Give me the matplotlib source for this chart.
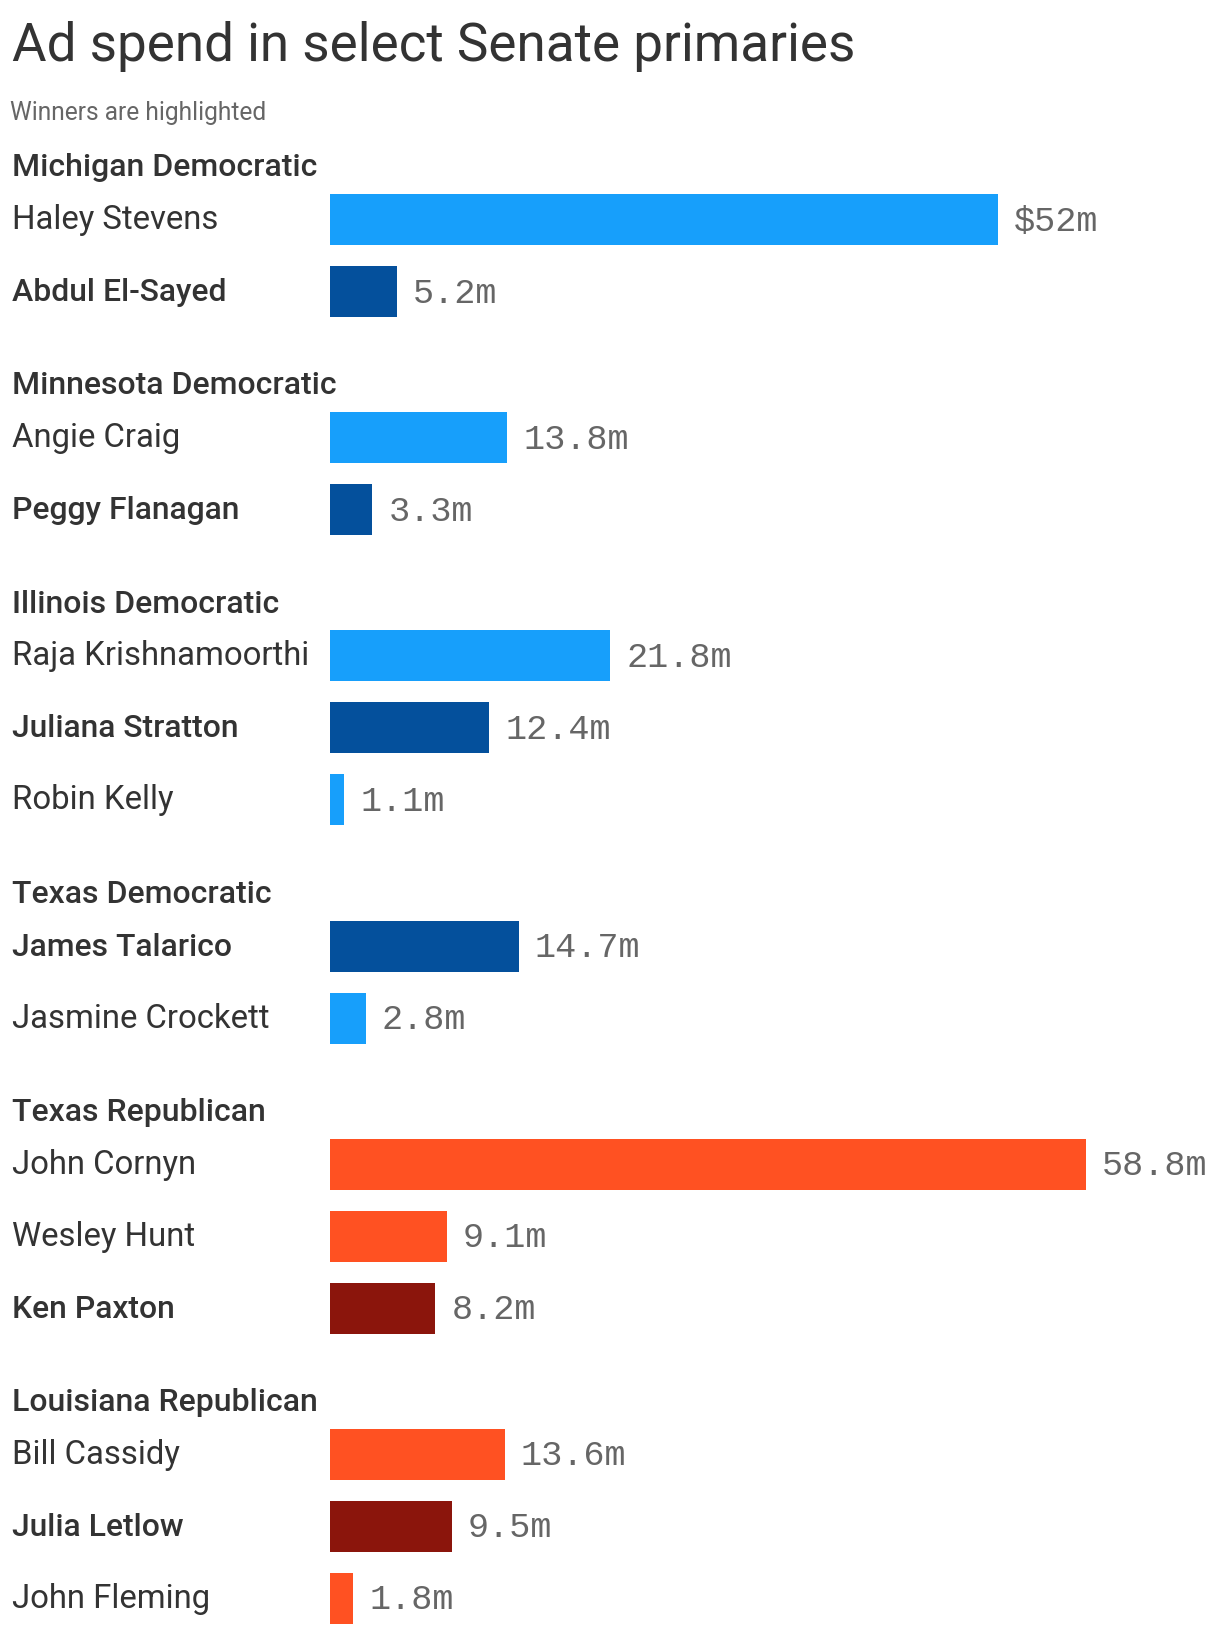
import matplotlib
matplotlib.use("Agg")
import matplotlib.pyplot as plt
from matplotlib.transforms import blended_transform_factory

# ---------------- data ----------------
groups = ["Michigan Democratic", "Minnesota Democratic", "Illinois Democratic",
          "Texas Democratic", "Texas Republican", "Louisiana Republican"]
group_party = ["D", "D", "D", "D", "R", "R"]
candidates = ["Haley Stevens", "Abdul El-Sayed",
              "Angie Craig", "Peggy Flanagan",
              "Raja Krishnamoorthi", "Juliana Stratton", "Robin Kelly",
              "James Talarico", "Jasmine Crockett",
              "John Cornyn", "Wesley Hunt", "Ken Paxton",
              "Bill Cassidy", "Julia Letlow", "John Fleming"]
candidate_group = [0, 0, 1, 1, 2, 2, 2, 3, 3, 4, 4, 4, 5, 5, 5]
spend_m = [52, 5.2, 13.8, 3.3, 21.8, 12.4, 1.1, 14.7, 2.8, 58.8, 9.1, 8.2, 13.6, 9.5, 1.8]
winner = [False, True, False, True, False, True, False, True, False,
          False, False, True, False, True, False]
value_labels = ["$52m", "5.2m", "13.8m", "3.3m", "21.8m", "12.4m", "1.1m",
                "14.7m", "2.8m", "58.8m", "9.1m", "8.2m", "13.6m", "9.5m", "1.8m"]

title = "Ad spend in select Senate primaries"
subtitle = "Winners are highlighted"

# ---------------- style ----------------
W, H, DPI = 1220, 1634, 100
ROW = 72.0                 # px per row unit
PX_PER_M = 12.85
BAR_LEFT = 330
colors = {("D", False): "#179FFB", ("D", True): "#04509C",
          ("R", False): "#FF5122", ("R", True): "#8B150C"}
TEXT = "#333333"
GRAY = "#666666"
SANS = ["Roboto", "DejaVu Sans"]
MONO = ["Liberation Mono", "DejaVu Sans Mono"]
BOLD = "medium"

fig = plt.figure(figsize=(W / DPI, H / DPI), dpi=DPI)
fig.patch.set_facecolor("white")
ax = fig.add_axes([BAR_LEFT / W, 0, (W - BAR_LEFT) / W, 1])
ax.set_xlim(0, (W - BAR_LEFT) / PX_PER_M)
ax.set_ylim(H / ROW, 0)
ax.axis("off")

renderer = fig.canvas.get_renderer()


def fit(t, target_px):
    bb = t.get_window_extent(renderer=renderer)
    t.set_fontsize(t.get_fontsize() * target_px / bb.width)


# layout of rows
HEAD_TO_BAR = 0.74
BAR_TO_HEAD = 1.29
cursor = 2.31
header_y = []
bar_y = []
for gi in range(len(groups)):
    header_y.append(cursor)
    members = [i for i, g in enumerate(candidate_group) if g == gi]
    y = cursor + HEAD_TO_BAR
    for k, i in enumerate(members):
        bar_y.append(y + k)
    cursor = bar_y[-1] + BAR_TO_HEAD

trans = blended_transform_factory(fig.transFigure, ax.transData)
X0 = 12.5 / W

# title & subtitle
t = fig.text(X0, 1 - 60.5 / H, title, fontsize=37, color=TEXT,
             family=SANS, ha="left", va="baseline")
fit(t, 842)
s = fig.text(10.5 / W, 1 - 120 / H, subtitle, fontsize=15.5, color=GRAY,
             family=SANS, ha="left", va="baseline")
fit(s, 256)

NAME_OFF = 9.5 / ROW
HEAD_OFF = 10 / ROW
LAB_OFF = 11 / ROW

# headers
head_texts = []
for gi, g in enumerate(groups):
    ht = ax.text(X0, header_y[gi] + HEAD_OFF, g, transform=trans, fontsize=21,
                 fontweight=BOLD, color=TEXT, family=SANS, ha="left", va="baseline")
    head_texts.append(ht)
fit(head_texts[0], 304)
for ht in head_texts[1:]:
    ht.set_fontsize(head_texts[0].get_fontsize())

# names
name_texts = []
for i, n in enumerate(candidates):
    nt = ax.text(X0, bar_y[i] + NAME_OFF, n, transform=trans, fontsize=21,
                 fontweight=BOLD if winner[i] else "normal", color=TEXT,
                 family=SANS, ha="left", va="baseline")
    name_texts.append(nt)
fit(name_texts[4], 296)
fit(name_texts[5], 227)
for i, nt in enumerate(name_texts):
    nt.set_fontsize(name_texts[5 if winner[i] else 4].get_fontsize())

# bars
bar_colors = [colors[(group_party[candidate_group[i]], winner[i])] for i in range(len(candidates))]
ax.barh(bar_y, spend_m, height=51 / ROW, left=0, color=bar_colors, linewidth=0)

# value labels
lab_texts = []
for i, lab in enumerate(value_labels):
    lt = ax.annotate(lab, xy=(spend_m[i], bar_y[i] + LAB_OFF), xytext=(16 * 72 / DPI, 0),
                     textcoords="offset points", fontsize=25, color=GRAY,
                     family=MONO, ha="left", va="baseline")
    lab_texts.append(lt)
fit(lab_texts[9], 106)
for lt in lab_texts:
    lt.set_fontsize(lab_texts[9].get_fontsize())

fig.savefig("out.png", dpi=DPI, facecolor="white")
